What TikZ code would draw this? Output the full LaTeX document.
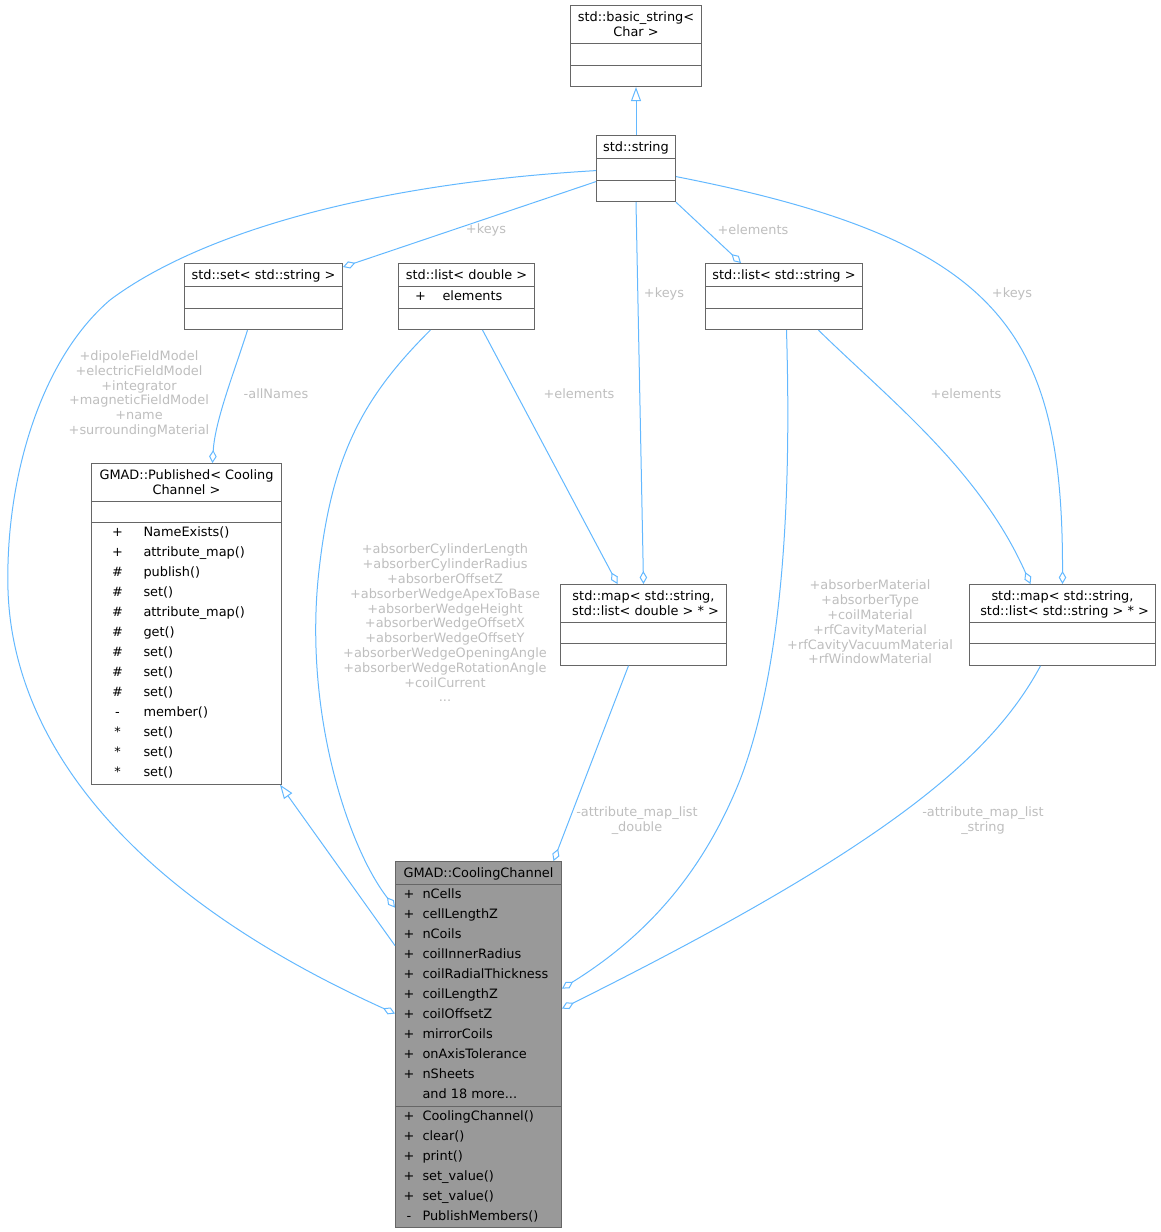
\documentclass[tikz,border=0pt]{standalone}
\usepackage{fontspec}
\setmainfont{DejaVu Sans}
\usepackage{array}
\usetikzlibrary{arrows.meta,shapes.multipart}
\definecolor{edgeblue}{RGB}{99,184,255}
\definecolor{frame}{RGB}{102,102,102}
\definecolor{lblgray}{RGB}{190,190,190}
\definecolor{focus}{RGB}{153,153,153}
\renewcommand\arraystretch{0}
\newcommand\tst{\rule[-2.5pt]{0pt}{14.5pt}}
\newcommand\mst{\rule[-6.5pt]{0pt}{20pt}}
\newcommand\emp{\rule[-6.75pt]{0pt}{20.5pt}}
\newcommand\ttl[1]{\raisebox{0pt}[\dimexpr\height+3.75pt\relax][\dimexpr\depth+3.75pt\relax]{%
  \begin{tabular}{@{}>{\tst}c@{}}#1\end{tabular}}}
\newcommand\mems[2]{\raisebox{0pt}[\dimexpr\height+0.25pt\relax][\dimexpr\depth+0.25pt\relax]{%
  \begin{tabular}{@{}>{\mst}w{c}{#1}@{}l@{}}#2\end{tabular}}}
\tikzset{
  cls/.style={rectangle split,rectangle split parts=3,
              rectangle split part align={center,left,left},
              draw=frame,line width=1pt,fill=white,inner xsep=0pt,inner ysep=0pt,
              anchor=north west,font=\fontsize{12.9pt}{14.5pt}\selectfont},
  lbl/.style={text=lblgray,align=center,inner sep=0pt,
              font=\fontsize{12.9pt}{14.8pt}\selectfont},
  agg/.style={draw=edgeblue,line width=1pt,-{Diamond[open,length=13pt,width=7.5pt]}},
  inh/.style={draw=edgeblue,line width=1pt,-{Triangle[open,length=14pt,width=10pt]}},
}
\begin{document}
\begin{tikzpicture}[x=1pt,y=-1pt]
  \useasboundingbox (0,0) rectangle (1161,1232);
  % classes
  \node[cls,minimum width=131pt] (bstr) at (570,5)
    {\ttl{std::basic\_string<\\Char >}\nodepart{two}\emp\nodepart{three}\emp};
  \node[cls,minimum width=79pt] (str) at (596,135)
    {\ttl{std::string}\nodepart{two}\emp\nodepart{three}\emp};
  \node[cls,minimum width=158pt] (set) at (184,263)
    {\ttl{std::set< std::string >}\nodepart{two}\emp\nodepart{three}\emp};
  \node[cls,minimum width=136pt] (ldbl) at (398,263)
    {\ttl{std::list< double >}\nodepart{two}\mems{44pt}{+ & elements}\nodepart{three}\emp};
  \node[cls,minimum width=157pt] (lstr) at (705,263)
    {\ttl{std::list< std::string >}\nodepart{two}\emp\nodepart{three}\emp};
  \node[cls,minimum width=190pt] (pub) at (91,463)
    {\ttl{GMAD::Published< Cooling\\Channel >}\nodepart{two}\emp
     \nodepart{three}\mems{52pt}{+ & NameExists()\\ + & attribute\_map()\\ \# & publish()\\
       \# & set()\\ \# & attribute\_map()\\ \# & get()\\ \# & set()\\ \# & set()\\ \# & set()\\
       - & member()\\ {*} & set()\\ {*} & set()\\ {*} & set()}};
  \node[cls,minimum width=166pt] (mdbl) at (560,584)
    {\ttl{std::map< std::string,\\\ std::list< double > * >}\nodepart{two}\emp\nodepart{three}\emp};
  \node[cls,minimum width=186pt] (mstr) at (969,584)
    {\ttl{std::map< std::string,\\\ std::list< std::string > * >}\nodepart{two}\emp\nodepart{three}\emp};
  \node[cls,minimum width=166pt,fill=focus] (cc) at (395,861)
    {\ttl{GMAD::CoolingChannel}
     \nodepart{two}\mems{27pt}{+ & nCells\\ + & cellLengthZ\\ + & nCoils\\ + & coilInnerRadius\\
       + & coilRadialThickness\\ + & coilLengthZ\\ + & coilOffsetZ\\ + & mirrorCoils\\
       + & onAxisTolerance\\ + & nSheets\\ & and 18 more...}
     \nodepart{three}\mems{27pt}{+ & CoolingChannel()\\ + & clear()\\ + & print()\\
       + & set\_value()\\ + & set\_value()\\ - & PublishMembers()}};
  % inheritance
  \draw[inh] (str) -- (bstr);
  \draw[inh] ([yshift=99pt]cc.west) -- ([xshift=-2pt]pub.south east);
  % members
  \draw[agg] ([yshift=-13pt]str.west) -- ([yshift=-4pt]set.north east);
  \draw[agg] (str.south) -- (mdbl.north);
  \draw[agg] (str.south east) -- ([xshift=36pt]lstr.north west);
  \draw[agg] ([yshift=-8pt]str.east) .. controls (1000,240) and (1063,330) .. (mstr.north);
  \draw[agg] ([yshift=-2pt]str.west) .. controls (350,185) and (190,240) .. (110,300)
    .. controls (40,360) and (5,480) .. (8,590)
    .. controls (12,720) and (100,880) .. ([yshift=31pt]cc.west);
  \draw[agg] ([xshift=-16pt]set.south) .. controls (235,370) and (215,420) .. ([xshift=26pt]pub.north);
  \draw[agg] ([xshift=16pt]ldbl.south) -- ([xshift=-26pt]mdbl.north);
  \draw[agg] ([xshift=-36pt]ldbl.south) .. controls (360,400) and (330,460) .. (318,580)
    .. controls (305,720) and (350,850) .. ([yshift=137pt]cc.west);
  \draw[agg] ([xshift=34.5pt]lstr.south) .. controls (890,400) and (980,470) .. ([xshift=-32pt]mstr.north);
  \draw[agg] ([xshift=2.5pt]lstr.south) .. controls (790,450) and (790,650) .. (740,780)
    .. controls (700,880) and (640,940) .. ([yshift=56pt]cc.east);
  \draw[agg] ([xshift=-15pt]mdbl.south) -- ([xshift=75pt]cc.north);
  \draw[agg] ([xshift=-22pt]mstr.south) .. controls (990,760) and (880,850) .. ([yshift=36pt]cc.east);
  % labels
  \node[lbl] (keysset) at (486,230) {+keys};
  \node[lbl] (keysmdbl) at (664,294) {+keys};
  \node[lbl] (elemlstr) at (753,230) {+elements};
  \node[lbl] (keysmstr) at (1012,294) {+keys};
  \node[lbl] (strmembers) at (139,394) {+dipoleFieldModel\\+electricFieldModel\\+integrator\\
    +magneticFieldModel\\+name\\+surroundingMaterial};
  \node[lbl] (allnames) at (276,394) {-allNames};
  \node[lbl] (elemmdbl) at (579,394) {+elements};
  \node[lbl] (dblmembers) at (445,623) {+absorberCylinderLength\\+absorberCylinderRadius\\
    +absorberOffsetZ\\+absorberWedgeApexToBase\\+absorberWedgeHeight\\+absorberWedgeOffsetX\\
    +absorberWedgeOffsetY\\+absorberWedgeOpeningAngle\\+absorberWedgeRotationAngle\\
    +coilCurrent\\...};
  \node[lbl] (elemmstr) at (966,394) {+elements};
  \node[lbl] (lstrmembers) at (870,622) {+absorberMaterial\\+absorberType\\+coilMaterial\\
    +rfCavityMaterial\\+rfCavityVacuumMaterial\\+rfWindowMaterial};
  \node[lbl] (mapdbl) at (637,821) {-attribute\_map\_list\\\_double};
  \node[lbl] (mapstr) at (983,821) {-attribute\_map\_list\\\_string};
\end{tikzpicture}
\end{document}
